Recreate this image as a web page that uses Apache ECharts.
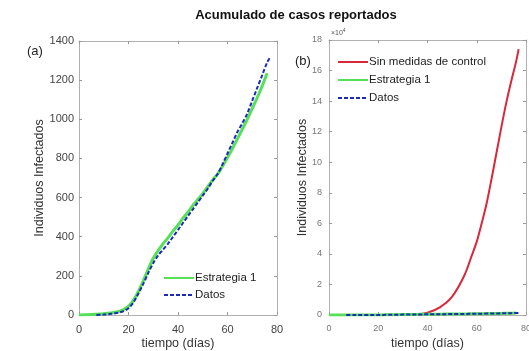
<!DOCTYPE html>
<html>
<head>
<meta charset="utf-8">
<script src="https://cdn.jsdelivr.net/npm/echarts@6/dist/echarts.min.js"></script>
<style>
  html, body { margin: 0; padding: 0; background: #fff; }
  #chart { width: 529px; height: 351px; }
</style>
</head>
<body>
<div id="chart"></div>
<script>
// Cumulative reported cases: model vs data (a), and the uncontrolled scenario (b)
const titleText = 'Acumulado de casos reportados';
const yName = 'Individuos Infectados';
const xName = 'tiempo (días)';

// Reported data (day, cumulative cases)
const dataDays = [7, 10, 13, 16, 18, 20, 22, 24, 26, 28, 30, 32, 34, 36, 38, 40, 42, 44, 46, 48, 50, 52, 54, 56, 58, 60, 62, 64, 66, 68, 70, 72, 74, 76, 77];
const dataCases = [0, 2, 6, 12, 20, 35, 65, 110, 160, 215, 265, 305, 335, 365, 400, 435, 470, 505, 540, 575, 610, 645, 685, 720, 770, 825, 880, 935, 980, 1030, 1095, 1160, 1225, 1290, 1312];

// Strategy 1 model output
const stratDays = [0, 5, 10, 15, 18, 20, 22, 24, 26, 28, 30, 32, 34, 36, 38, 40, 42, 44, 46, 48, 50, 52, 54, 56, 58, 60, 62, 64, 66, 68, 70, 72, 74, 76];
const stratCases = [0, 2, 6, 15, 28, 45, 75, 120, 175, 235, 290, 330, 365, 395, 430, 460, 495, 525, 560, 590, 620, 655, 690, 720, 760, 805, 850, 900, 950, 1000, 1055, 1110, 1170, 1235];

// No-control scenario (individuals)
const noCtrlDays = [0, 10, 20, 30, 35, 40, 45, 50, 55, 58, 60, 62, 64, 66, 68, 70, 72, 74, 76, 77];
const noCtrlCases = [0, 0, 10, 100, 300, 1500, 5000, 12000, 26000, 39000, 48000, 60000, 73000, 89000, 106000, 123000, 139000, 153000, 166000, 174000];

const xTicks = [0, 20, 40, 60, 80];

const pairs = (xs, ys) => xs.map((x, i) => [x, ys[i]]);

const green = '#55e055';
const blue = '#1c2ab8';
const red = '#d8283a';
const axisGray = '#b0b0b0';
const font = 'Liberation Sans, Arial, sans-serif';

function xAxes(gridIndex, labelSize, labelColor) {
  return [
    {
      type: 'value', gridIndex, min: xTicks[0], max: xTicks[xTicks.length - 1], interval: xTicks[1] - xTicks[0], position: 'bottom',
      axisLine: { show: true, onZero: false, lineStyle: { color: axisGray, width: 1 } },
      axisTick: { show: true, inside: true, length: 3, lineStyle: { color: '#999' } },
      axisLabel: { color: labelColor, fontSize: labelSize, fontFamily: font, margin: 9 },
      splitLine: { show: false },
      name: xName, nameLocation: 'middle', nameGap: 22, nameMoveOverlap: false,
      nameTextStyle: { color: '#333', fontSize: 12.5, fontFamily: font }
    },
    {
      type: 'value', gridIndex, min: xTicks[0], max: xTicks[xTicks.length - 1], interval: xTicks[1] - xTicks[0], position: 'top',
      axisLine: { show: true, onZero: false, lineStyle: { color: axisGray, width: 1 } },
      axisTick: { show: true, inside: true, length: 3, lineStyle: { color: '#999' } },
      axisLabel: { show: false }, splitLine: { show: false }
    }
  ];
}

function yAxes(gridIndex, max, interval, labelSize, labelColor, formatter, nameGap, margin) {
  return [
    {
      type: 'value', gridIndex, min: 0, max, interval, position: 'left',
      axisLine: { show: true, onZero: false, lineStyle: { color: axisGray, width: 1 } },
      axisTick: { show: true, inside: true, length: 3, lineStyle: { color: '#999' } },
      axisLabel: { color: labelColor, fontSize: labelSize, fontFamily: font, margin, formatter },
      splitLine: { show: false },
      name: yName, nameLocation: 'middle', nameGap, nameMoveOverlap: false,
      nameTextStyle: { color: '#333', fontSize: 12.5, fontFamily: font }
    },
    {
      type: 'value', gridIndex, min: 0, max, interval, position: 'right',
      axisLine: { show: true, onZero: false, lineStyle: { color: axisGray, width: 1 } },
      axisTick: { show: true, inside: true, length: 3, lineStyle: { color: '#999' } },
      axisLabel: { show: false }, splitLine: { show: false }
    }
  ];
}

const legendBase = {
  orient: 'vertical', padding: 0, itemWidth: 30, itemHeight: 12,
  itemStyle: { opacity: 0 },
  textStyle: { fontSize: 11.5, color: '#222', fontFamily: font, padding: [0, 0, 0, -4] },
  selectedMode: false
};

const chart = echarts.init(document.getElementById('chart'), null, { renderer: 'canvas' });

chart.setOption({
  animation: false,
  backgroundColor: '#fff',
  title: {
    text: titleText, left: 296, top: 9, textAlign: 'center', padding: 0,
    textStyle: { fontSize: 13, fontWeight: 'bold', color: '#111', fontFamily: font }
  },
  grid: [
    { left: 79, top: 41, width: 198, height: 274, outerBoundsMode: 'none', containLabel: false },
    { left: 329, top: 40, width: 197, height: 275, outerBoundsMode: 'none', containLabel: false }
  ],
  xAxis: [...xAxes(0, 11, '#444'), ...xAxes(1, 9, '#777')],
  yAxis: [
    ...yAxes(0, 1400, 200, 11, '#444', v => String(v), 33, 5),
    ...yAxes(1, 180000, 20000, 9, '#777', v => String(v / 10000), 20, 7)
  ],
  legend: [
    Object.assign({}, legendBase, {
      data: ['Estrategia 1', 'Datos'], left: 163, top: 272, itemGap: 5
    }),
    Object.assign({}, legendBase, {
      data: ['Sin medidas de control', 'Estrategia 1', 'Datos'], left: 337, top: 56, itemGap: 6
    })
  ],
  graphic: [
    { type: 'text', left: 27, top: 45, style: { text: '(a)', fill: '#222', font: '13px ' + font } },
    { type: 'text', left: 295, top: 55, style: { text: '(b)', fill: '#222', font: '13px ' + font } },
    {
      type: 'text', left: 331, top: 28,
      style: {
        text: '{a|×10}{b|4}',
        rich: {
          a: { fontSize: 7, fill: '#555', fontFamily: font, verticalAlign: 'bottom' },
          b: { fontSize: 5, fill: '#555', fontFamily: font, verticalAlign: 'top', padding: [0, 0, 4, 0] }
        }
      }
    }
  ],
  series: [
    {
      name: 'Estrategia 1', type: 'line', xAxisIndex: 0, yAxisIndex: 0,
      data: pairs(stratDays, stratCases), smooth: 0.3, symbol: 'none',
      lineStyle: { color: green, width: 3 }, itemStyle: { color: green }, z: 2
    },
    {
      name: 'Datos', type: 'line', xAxisIndex: 0, yAxisIndex: 0,
      data: pairs(dataDays, dataCases), smooth: 0.3, symbol: 'none',
      lineStyle: { color: blue, width: 2, type: [4, 2] }, itemStyle: { color: blue }, z: 3
    },
    {
      name: 'Sin medidas de control', type: 'line', xAxisIndex: 2, yAxisIndex: 2,
      data: pairs(noCtrlDays, noCtrlCases), smooth: 0.3, symbol: 'none',
      lineStyle: { color: red, width: 2 }, itemStyle: { color: red }, z: 2
    },
    {
      name: 'Estrategia 1', type: 'line', xAxisIndex: 2, yAxisIndex: 2,
      data: pairs(stratDays, stratCases), smooth: 0.3, symbol: 'none',
      lineStyle: { color: green, width: 3 }, itemStyle: { color: green }, z: 2
    },
    {
      name: 'Datos', type: 'line', xAxisIndex: 2, yAxisIndex: 2,
      data: pairs(dataDays, dataCases), smooth: 0.3, symbol: 'none',
      lineStyle: { color: blue, width: 2, type: [4, 2] }, itemStyle: { color: blue }, z: 3
    }
  ]
});
</script>
</body>
</html>
